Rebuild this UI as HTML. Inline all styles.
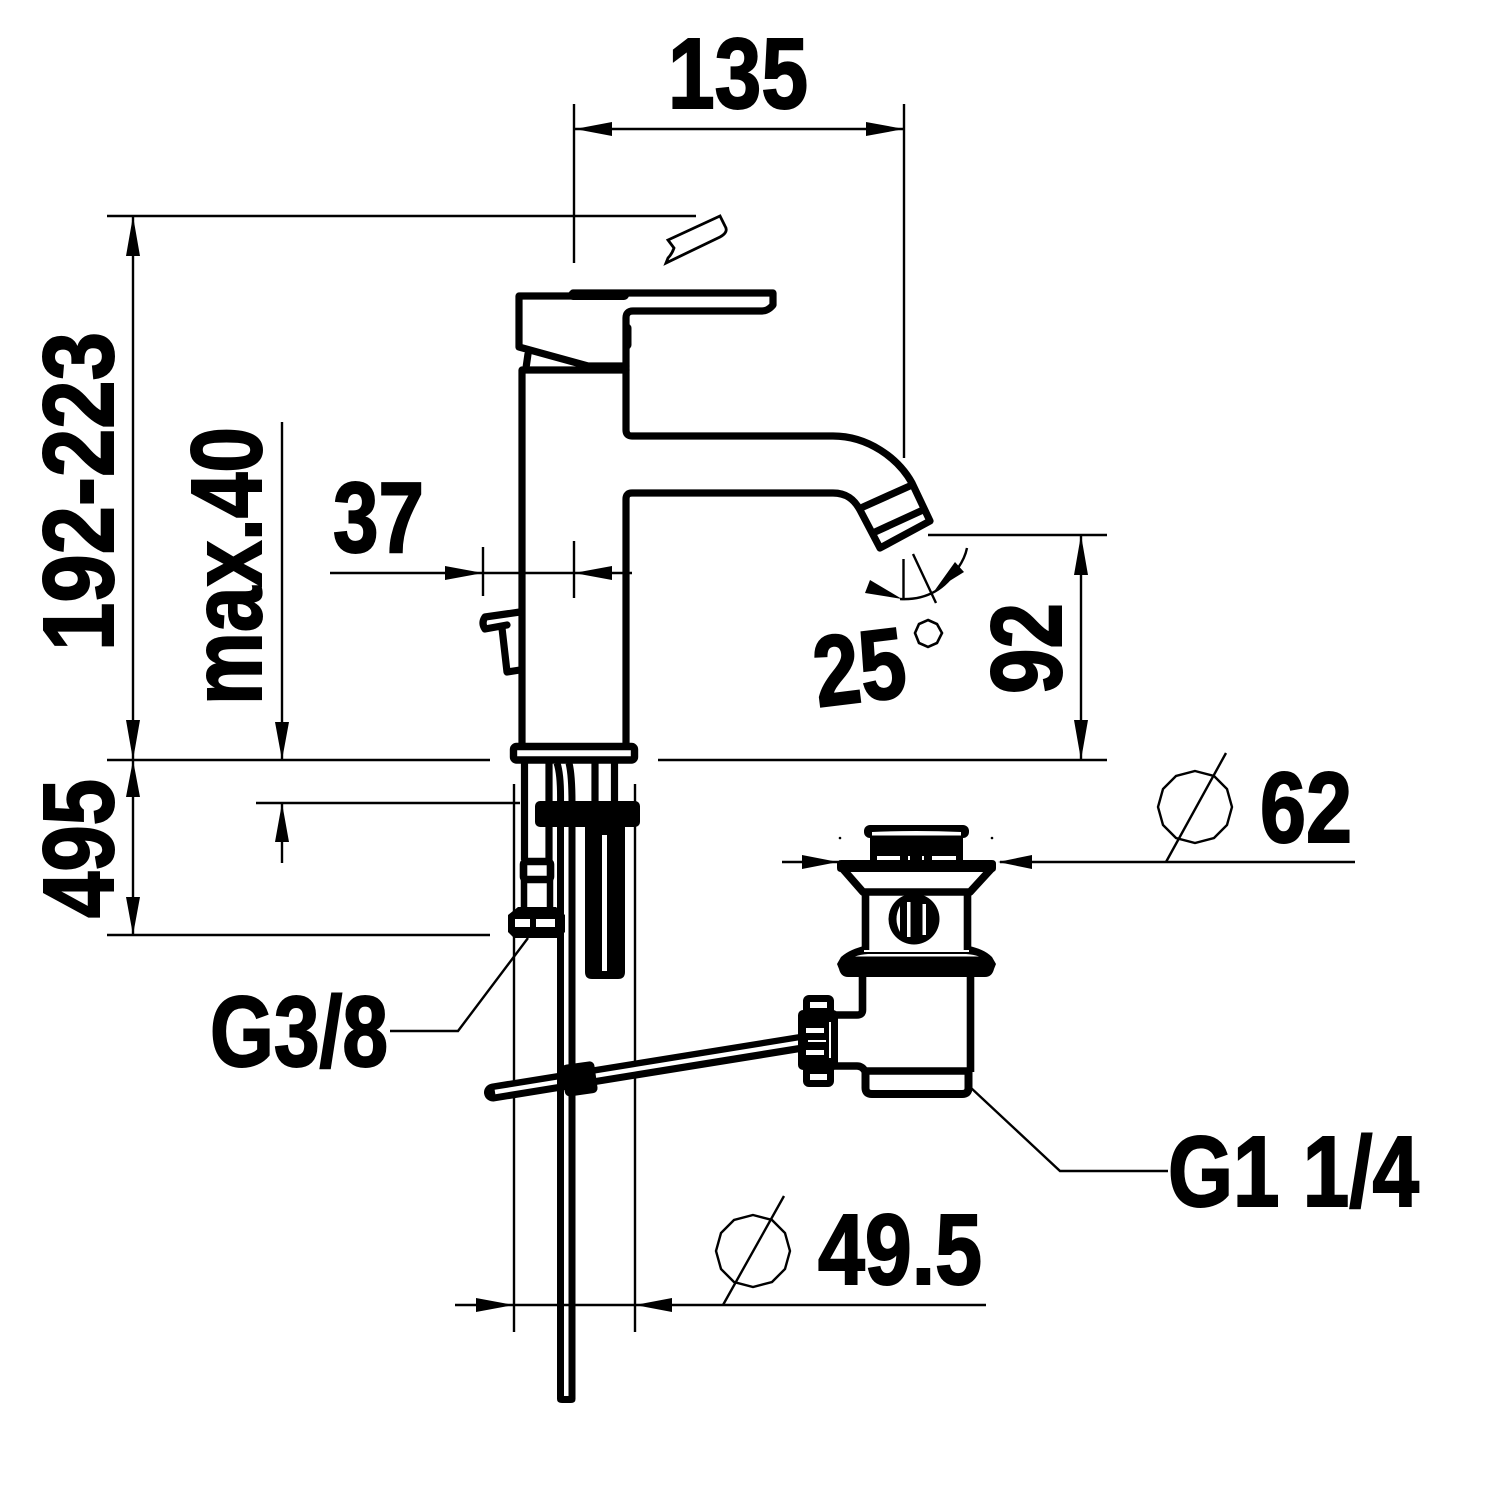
<!DOCTYPE html>
<html><head><meta charset="utf-8"><style>
html,body{margin:0;padding:0;background:#fff}
svg{display:block}
text{font-family:"Liberation Sans",sans-serif;font-weight:700;font-size:100px;fill:#000;stroke:#000;stroke-width:2}
</style></head><body>
<svg width="1500" height="1500" viewBox="0 0 1500 1500" xmlns="http://www.w3.org/2000/svg">
<rect width="1500" height="1500" fill="#fff"/>
<!-- thin dimension lines -->
<g fill="none" stroke="#000" stroke-width="2.4">
<path d="M574 104V263M904 104V458M575 129H904M107 216H696M133 216V935"/>
<path d="M107 760H490M658 760H1107M107 935H490M256 803H520"/>
<path d="M282 422V760M282 803V863"/>
<path d="M330 573H632M483 547V596M574 541V598"/>
<path d="M928 535H1107M1081 535V760"/>
<path d="M514 784V1332M635 784V1332"/>
<path d="M782 862H838M1000 862H1355"/>
<path d="M455 1305H986"/>
<path d="M528 938L458 1031H390M970 1087L1060 1171H1168"/>
<path d="M1226 753L1166 862M784 1196L723 1305"/>
<polygon points="1195,771 1214,776 1227,789 1232,807 1227,825 1214,838 1195,843 1176,838 1163,825 1158,807 1163,789 1176,776"/>
<polygon points="753,1215 772,1220 785,1233 790,1251 785,1269 772,1282 753,1287 734,1282 721,1269 716,1251 721,1233 734,1220"/>
<path d="M903.5 559V599M913 554L936 603M900 599Q938 601 958 568Q965 558 967 548"/>
<polygon points="928,620 937,624 942,633 937,643 928,647 919,643 915,633 919,624" stroke-width="2.6"/>
<path d="M720 216L668 240L674 248Q672 254 668 258L666 263L720 237Q729 232 725 226Z" stroke-width="2.8"/>
</g>
<!-- arrowheads -->
<g fill="#000">
<path d="M575 129L612 122V136ZM904 129L866 122V136Z"/>
<path d="M133 216L126 256H140ZM133 760L126 720H140ZM133 760L126 797H140ZM133 935L126 897H140Z"/>
<path d="M282 760L275 722H289ZM282 803L275 842H289Z"/>
<path d="M483 573L445 566V580ZM574 573L612 566V580Z"/>
<path d="M1081 535L1074 575H1088ZM1081 760L1074 720H1088Z"/>
<path d="M838 862L802 855V869ZM998 862L1032 855V869Z"/>
<path d="M514 1305L476 1298V1312ZM635 1305L672 1298V1312Z"/>
<path d="M902 599L870 580L865 593ZM935 590L955 562L964 572Z"/>
<circle cx="840" cy="838" r="1.3"/><circle cx="992" cy="838" r="1.3"/>
</g>
<!-- faucet -->
<g fill="none" stroke="#000" stroke-width="7.2" stroke-linejoin="round" stroke-linecap="round">
<path d="M626 370V318Q626 311 633 311H762Q768 311 773 305V293H573"/>
<path d="M573 296H519V347L588 366H626"/>
<path d="M528 354L526 368"/>
<path d="M523 370H626"/>
<path d="M522 370V745M626 370V430Q626 436 632 436H833C868 436 898 458 912 483L930 521L880 548L860 510C854 499 846 493 833 493H632Q626 493 626 499V745"/>
<path d="M863 507L912 485M875 532L923 510"/>
<path d="M520 612L485 617Q481 623 485 629L507 625M502 628L507 672L520 670"/>
<path d="M573 295H624" stroke-width="10"/>
<path d="M627 328V345" stroke-width="9"/>
</g>
<!-- base and underside -->
<g fill="none" stroke="#000" stroke-linejoin="round">
<rect x="513.5" y="746.5" width="121" height="13.5" rx="3" stroke-width="7.400"/>
<path d="M524.5 763V860M549 763V860M595 763V803M614.500 763V803" stroke-width="7.200"/>
<path d="M557 763Q561 775 560.500 803V1000M569 763Q572 775 572 803V1000" stroke-width="7"/>
<rect x="523.500" y="861.500" width="27" height="18" rx="3" stroke-width="7.600"/>
<path d="M524 880V908M550 880V908" stroke-width="6.500"/>
</g>
<rect x="535" y="801" width="105" height="26" rx="5" fill="#000"/>
<path d="M585 825H625V972Q625 979 618 979H592Q585 979 585 972Z" fill="#000"/>
<rect x="602" y="835" width="5" height="136" fill="#fff"/>
<!-- hex nut -->
<path d="M518 907H556L565 915V932L559 938H514L508 932V915Z" fill="#000"/>
<rect x="515" y="919" width="15" height="8" fill="#fff"/>
<rect x="536" y="919" width="19" height="8" fill="#fff"/>
<!-- long rod -->
<path d="M560.500 938V1399M572 938V1399" stroke="#000" stroke-width="7" fill="none"/>
<path d="M557 1396H575.500V1399Q575.500 1403 571 1403H562Q557 1403 557 1399Z" fill="#000"/>
<!-- horizontal rod -->
<path d="M493 1092.500L800 1043" stroke="#000" stroke-width="18" stroke-linecap="round" fill="none"/>
<path d="M495 1092L803 1042" stroke="#fff" stroke-width="4.500" fill="none"/>
<path d="M560.500 1040V1120M572 1040V1120" stroke="#000" stroke-width="7" fill="none"/>
<rect x="563" y="1063" width="33" height="32" rx="5" fill="#000" transform="rotate(-8 579 1078)"/>
<!-- drain -->
<g fill="none" stroke="#000" stroke-linejoin="round">
<path d="M863 892L842 868H992L970 892Z" stroke-width="7.600"/>
<path d="M865.500 892V950M967.500 892V950" stroke-width="7.600"/>
<path d="M862.500 976V1010Q862.500 1015 857 1015H834" stroke-width="7.600"/>
<path d="M970.500 976V1072" stroke-width="7.600"/>
<path d="M834 1066H857Q862 1066 865 1071H972" stroke-width="7.600"/>
<path d="M865.500 1071V1088Q865.500 1094 872 1094H962Q968.500 1094 968.500 1088V1071" stroke-width="8"/>
</g>
<g fill="#000">
<path d="M837 864Q837 860 841 860H992Q996 860 996 864V868Q996 872 992 872H841Q837 872 837 868Z"/>
<path d="M870 837H963V860H870Z"/>
<rect x="864" y="825" width="105" height="13" rx="6"/>
<path d="M841 957C848 951 856 948 864 946V952H969V946C978 948 986 951 992 957L996 964L994 969Q992 977 985 977H848Q841 977 839 969L837 964Z"/>
<circle cx="914" cy="919" r="25.500"/>
</g>
<path d="M872 832Q916 830 961 832V835.500H872Z" fill="#fff"/>
<path d="M877 856H900V860H877ZM908 856H910V860H908ZM922 856H924V860H922ZM932 856H956V860H932Z" fill="#fff"/>
<rect x="907" y="902" width="3.500" height="35" fill="#fff"/>
<rect x="922.500" y="904" width="3.500" height="31" fill="#fff"/>
<path d="M900 906Q893 919 900 932V906Z" fill="#fff"/>
<path d="M855 956.500Q860 954.500 868 954H966Q974 954.500 979 956.500Z" fill="#fff"/>
<!-- coupling nut -->
<g fill="#000">
<rect x="803" y="995" width="31" height="92" rx="6"/>
<rect x="798" y="1010" width="40" height="60" rx="5"/>
</g>
<path d="M810 1002H827V1008H810ZM810 1074H827V1080H810Z" fill="#fff"/>
<path d="M806 1028H824V1033H806ZM806 1050H824V1055H806ZM808 1040H826V1042H808Z" fill="#fff"/>
<rect x="829" y="1022" width="2" height="36" fill="#fff"/>
<!-- labels -->
<text x="668" y="108" textLength="140" lengthAdjust="spacingAndGlyphs">135</text>
<text transform="translate(113 651) rotate(-90)" textLength="319" lengthAdjust="spacingAndGlyphs">192-223</text>
<text transform="translate(261 705) rotate(-90)" textLength="278" lengthAdjust="spacingAndGlyphs">max.40</text>
<text x="333" y="552" textLength="91" lengthAdjust="spacingAndGlyphs">37</text>
<text transform="translate(818 707) rotate(-7)" textLength="92" lengthAdjust="spacingAndGlyphs">25</text>
<text transform="translate(1061 694) rotate(-90)" textLength="91" lengthAdjust="spacingAndGlyphs">92</text>
<text transform="translate(113 918) rotate(-90)" textLength="139" lengthAdjust="spacingAndGlyphs">495</text>
<text x="1260" y="842" textLength="92" lengthAdjust="spacingAndGlyphs">62</text>
<text x="210" y="1066" textLength="178" lengthAdjust="spacingAndGlyphs">G3/8</text>
<text x="1168" y="1206" textLength="251" lengthAdjust="spacingAndGlyphs">G1 1/4</text>
<text x="818" y="1284" textLength="164" lengthAdjust="spacingAndGlyphs">49.5</text>
</svg>
</body></html>
